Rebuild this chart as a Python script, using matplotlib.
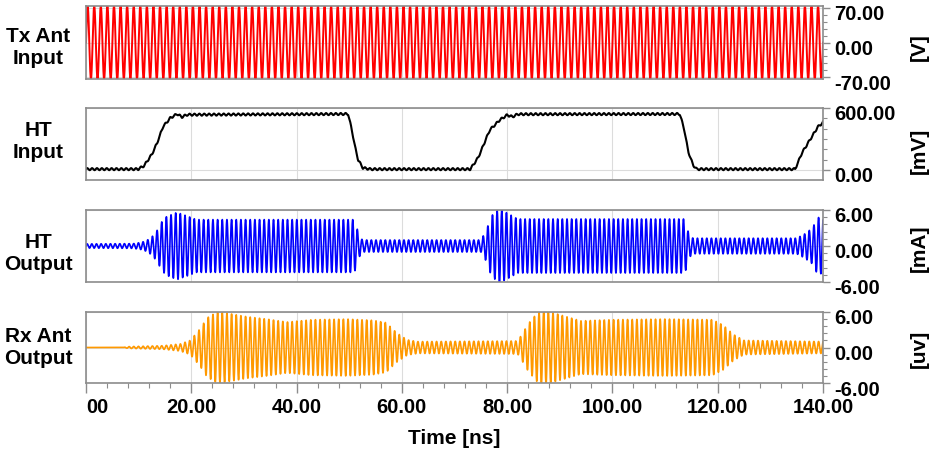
import numpy as np
import matplotlib
matplotlib.use("Agg")
import matplotlib.pyplot as plt
import matplotlib.transforms as mtransforms
from matplotlib.ticker import MultipleLocator

plt.rcParams['font.family'] = ['Liberation Sans', 'DejaVu Sans']
plt.rcParams['font.weight'] = 'bold'

# ---------------- data ----------------
panel_labels = ["Tx Ant\nInput", "HT\nInput", "HT\nOutput", "Rx Ant\nOutput"]
unit_labels = ["[V]", "[mV]", "[mA]", "[uv]"]
x_ticks = [0, 20, 40, 60, 80, 100, 120, 140]
x_tick_labels = ["00", "20.00", "40.00", "60.00", "80.00", "100.00", "120.00", "140.00"]
x_label = "Time [ns]"

# carrier frequencies (GHz) of the oscillating traces
tx_freq = 0.8
ht_in_ripple_freq = 1.08
ht_out_freq = 1.13
rx_freq = 1.13

# Tx antenna input: envelope (ns, V)
tx_env_t = [0, 140]
tx_env_v = [73, 73]

# HT input level (ns, mV)
ht_in_t = [0, 9.9, 11.0, 12.5, 13.5, 14.6, 16.0, 17.3, 18.2, 19.2, 49.8, 50.5, 51.1, 51.7,
           52.6, 54.0, 73.0, 74.5, 76.7, 78.6, 80.0, 81.0, 82.0, 112.8, 113.6, 114.4, 115.3,
           116.0, 134.7, 136.0, 137.5, 139.0, 140.0]
ht_in_v = [8, 8, 40, 150, 261, 416, 503, 542, 513, 535, 542, 387, 226, 97,
           20, 8, 8, 120, 387, 484, 532, 515, 540, 542, 400, 180, 50,
           8, 8, 165, 290, 416, 460]
ht_in_ripple = 10

# HT output envelope (ns, mA)
ht_out_t = [0, 9.0, 10.5, 11.5, 12.5, 13.5, 14.5, 15.3, 17.3, 19.2, 21.0, 30.0, 40.0, 51.0,
            51.8, 52.5, 75.0, 76.0, 77.0, 78.5, 80.0, 82.0, 113.8, 114.5, 115.3, 135.0,
            136.5, 138.0, 139.0, 140.0]
ht_out_v = [0.35, 0.4, 0.6, 0.9, 1.5, 2.6, 4.2, 4.9, 5.6, 5.0, 4.4, 4.4, 4.4, 4.4,
            2.0, 1.0, 1.0, 2.5, 5.0, 6.2, 5.5, 4.5, 4.5, 2.0, 1.3, 1.3,
            2.0, 3.0, 4.8, 4.5]

# Rx antenna output envelope (ns, uV)
rx_t = [0, 7.0, 8.0, 14.6, 17.9, 19.8, 21.7, 23.0, 24.9, 26.8, 30.6, 34.4, 38.2, 43.0,
        49.6, 54.5, 57.0, 59.0, 61.0, 63.0, 82.0, 83.0, 84.0, 85.7, 87.0, 89.0, 94.0,
        100.0, 110.0, 119.0, 121.0, 123.0, 125.0, 140.0]
rx_v = [0, 0, 0.15, 0.3, 0.6, 1.2, 3.2, 5.0, 6.0, 5.8, 5.2, 4.8, 4.3, 4.7,
        4.8, 4.6, 4.2, 2.5, 1.3, 1.0, 1.1, 2.5, 4.0, 5.8, 6.2, 5.8, 4.5,
        4.7, 4.8, 4.7, 3.8, 2.2, 1.2, 1.0]

colors = ["#ff0000", "#000000", "#0000ff", "#ff9900"]
ylims = [(-73, 73), (-97, 600), (-6, 6), (-6, 6)]
yticks = [[-70, 0, 70], [0, 600], [-6, 0, 6], [-6, 0, 6]]
yticklabels = [["-70.00", "0.00", "70.00"], ["0.00", "600.00"],
               ["-6.00", "0.00", "6.00"], ["-6.00", "0.00", "6.00"]]
yminor = [14, 100, 1.2, 1.2]
line_widths = [1.4, 1.5, 1.2, 1.2]

# ---------------- build traces ----------------
t = np.linspace(0, 140, 28001)
tx = np.interp(t, tx_env_t, tx_env_v) * np.sin(2 * np.pi * tx_freq * t)
ht_in = np.interp(t, ht_in_t, ht_in_v) + ht_in_ripple * np.sin(2 * np.pi * ht_in_ripple_freq * t)
ht_out = np.interp(t, ht_out_t, ht_out_v) * np.sin(2 * np.pi * ht_out_freq * t)
rx = np.interp(t, rx_t, rx_v) * np.sin(2 * np.pi * rx_freq * t)
traces = [tx, ht_in, ht_out, rx]

# ---------------- layout ----------------
W, H = 932, 455
fig = plt.figure(figsize=(W / 100, H / 100), dpi=100)
left_px, right_px = 86, 823
boxes = [(6, 79), (108, 180), (210, 282), (312, 383)]
label_y = [47, 141, 253, 347]
unit_y = [47, 151, 248, 349]
axes = []
for (top, bot) in boxes:
    ax = fig.add_axes([left_px / W, 1 - bot / H, (right_px - left_px) / W, (bot - top) / H])
    axes.append(ax)

offset = mtransforms.ScaledTranslation(0, -5 / 100, fig.dpi_scale_trans)
tick_fs = 14.5

for i, ax in enumerate(axes):
    ax.plot(t, traces[i], color=colors[i], lw=line_widths[i])
    ax.set_xlim(0, 140)
    ax.set_ylim(*ylims[i])
    for s in ax.spines.values():
        s.set_color("#8c8c8c")
        s.set_linewidth(1.2)
    ax.yaxis.tick_right()
    ax.set_yticks(yticks[i])
    ax.set_yticklabels(yticklabels[i], fontsize=tick_fs, fontweight='bold')
    ax.yaxis.set_minor_locator(MultipleLocator(yminor[i]))
    ax.tick_params(axis='y', which='major', length=5, width=1, color="#8c8c8c", pad=3, direction='out')
    ax.tick_params(axis='y', which='minor', length=3, width=0.8, color="#8c8c8c", direction='out')
    for lbl in ax.get_yticklabels():
        lbl.set_transform(lbl.get_transform() + offset)
    ax.set_xticks(x_ticks)
    ax.xaxis.set_minor_locator(MultipleLocator(4))
    ax.grid(True, which='major', color="#dcdcdc", lw=0.8)
    ax.set_axisbelow(True)
    if i < 3:
        ax.tick_params(axis='x', which='both', bottom=False, labelbottom=False)
    else:
        ax.set_xticklabels(x_tick_labels, fontsize=tick_fs, fontweight='bold')
        ax.tick_params(axis='x', which='major', length=7, width=1, color="#8c8c8c", pad=4)
        ax.tick_params(axis='x', which='minor', length=3.5, width=0.8, color="#8c8c8c")
        ax.xaxis.get_major_ticks()[0].label1.set_horizontalalignment('left')
    fig.text(38 / W, 1 - label_y[i] / H, panel_labels[i], ha='center', va='center', fontsize=15,
             fontweight='bold', linespacing=1.2)
    fig.text(919 / W, 1 - unit_y[i] / H, unit_labels[i], ha='center', va='center', fontsize=15,
             fontweight='bold', rotation=90)

fig.text((left_px + right_px) / 2 / W, 1 - 438 / H, x_label, ha='center', va='center',
         fontsize=15, fontweight='bold')

fig.savefig("out.png", dpi=100)
